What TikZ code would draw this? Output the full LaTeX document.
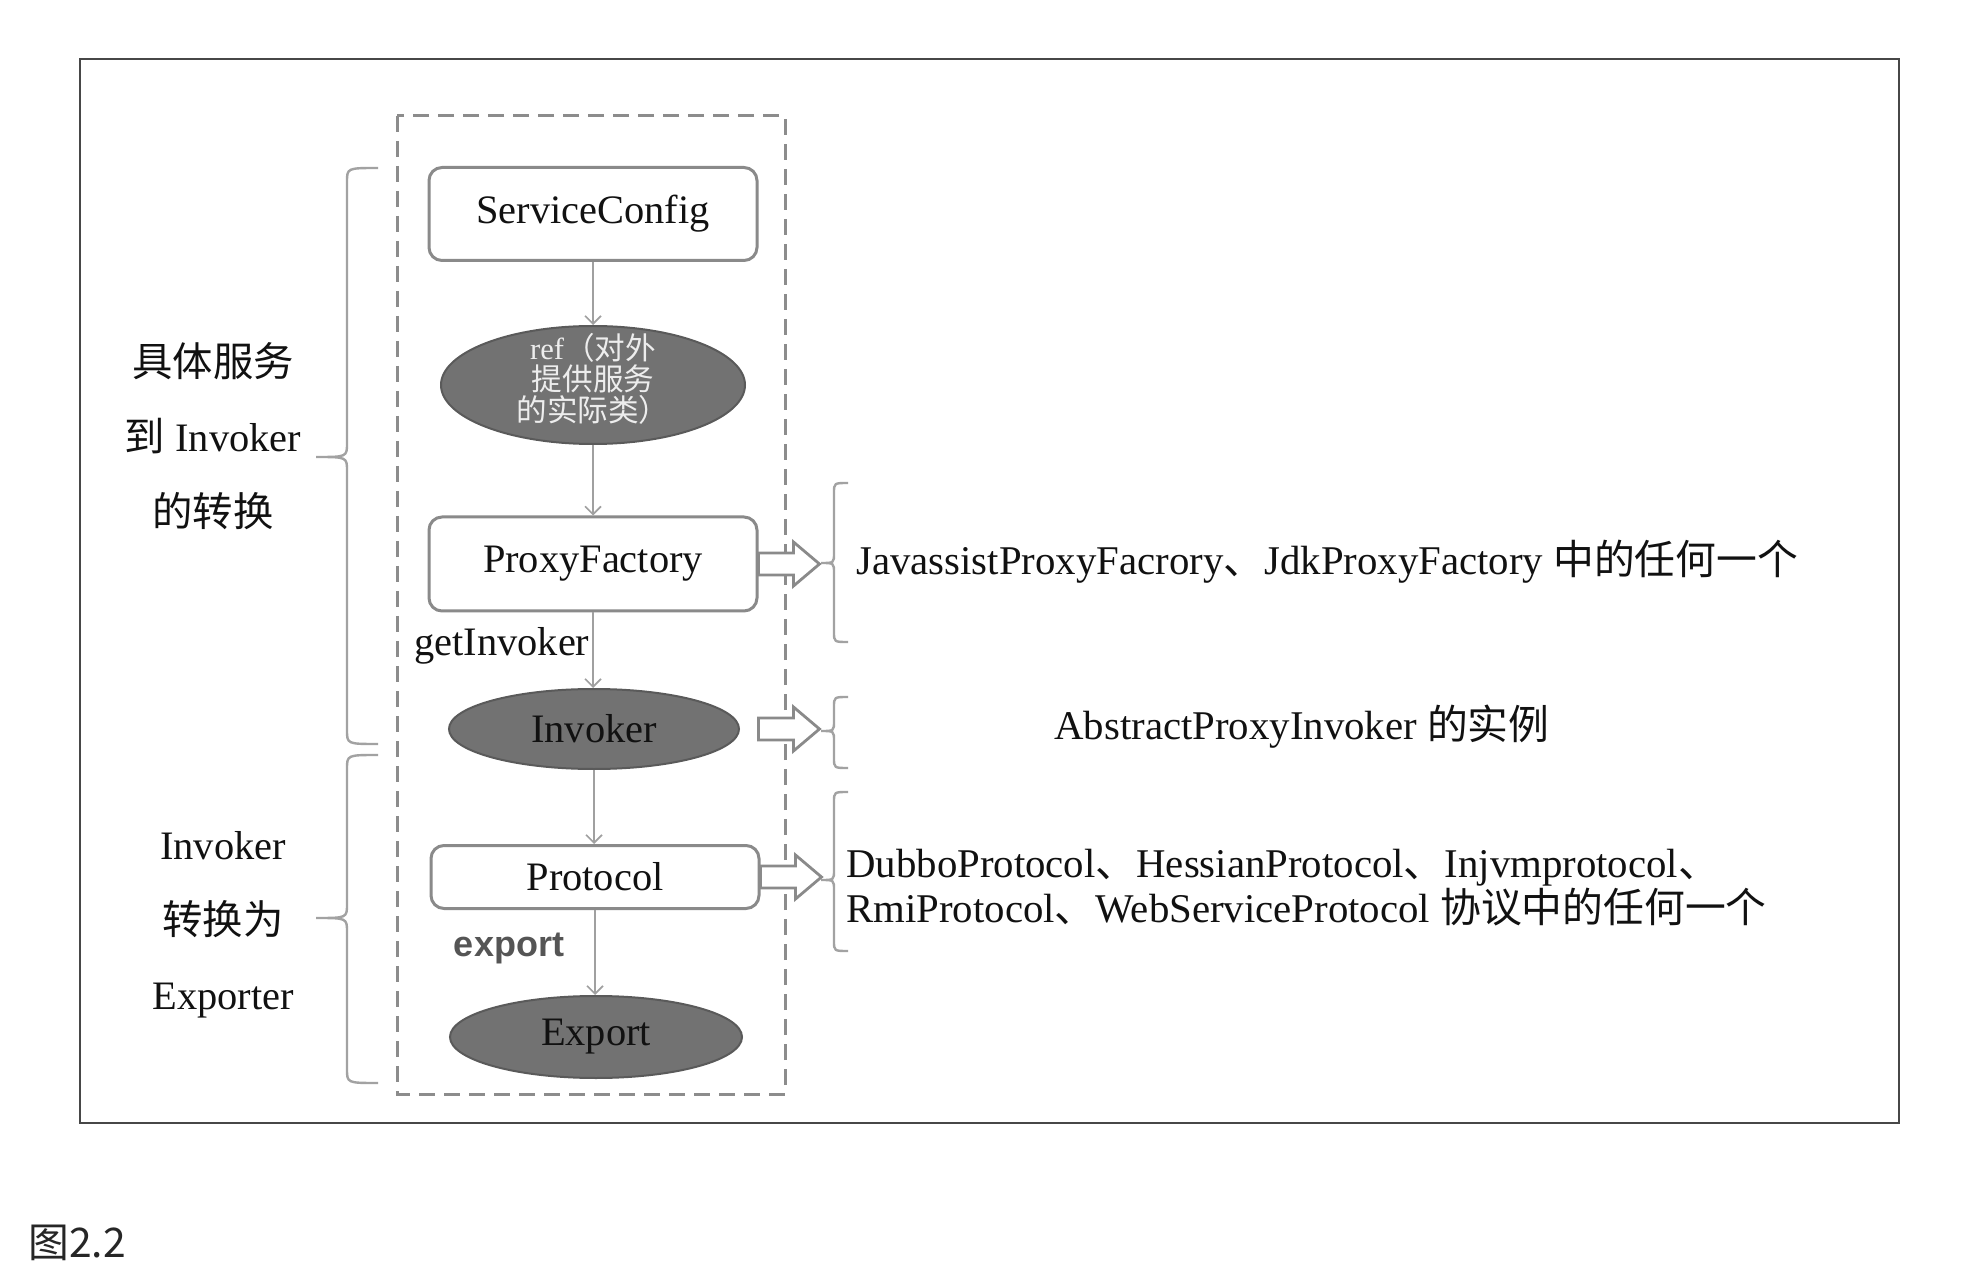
\documentclass[tikz,border=0pt]{standalone}
\usepackage{fontspec}
\setmainfont{Liberation Serif}
\newfontfamily\zhfont{Noto Sans CJK SC}
\newfontfamily\labsans{Liberation Sans}
\newcommand\zh[1]{{\zhfont #1}}
\usetikzlibrary{arrows.meta,shapes.geometric}
\definecolor{boxgray}{HTML}{8A8A8A}
\definecolor{ellfill}{HTML}{727272}
\definecolor{elldraw}{HTML}{5A5A5A}
\definecolor{conngray}{HTML}{A0A0A0}
\definecolor{dashgray}{HTML}{8C8C8C}
\definecolor{bracegray}{HTML}{A2A2A2}
\definecolor{framegray}{HTML}{474747}
\definecolor{exportgray}{HTML}{555555}
\definecolor{txt}{HTML}{111111}
\newcommand\mybrace[7]{%
  \draw[bracestyle] (#1,#4) .. controls (#2,#4) .. (#2,#4+#7)
    -- (#2,#5-#7) .. controls (#2,#5) .. (#3,#5)
    .. controls (#2,#5) .. (#2,#5+#7)
    -- (#2,#6-#7) .. controls (#2,#6) .. (#1,#6);}
\begin{document}
\begin{tikzpicture}[x=0.5pt,y=-0.5pt,
  every node/.style={text=txt, font=\fontsize{20.2}{24}\selectfont},
  procbox/.style={draw=boxgray, line width=1.5pt, rounded corners=6.5pt, fill=white,
    minimum width=164pt, inner sep=0pt},
  darkell/.style={ellipse, draw=elldraw, line width=1pt, fill=ellfill, inner sep=0pt},
  conn/.style={draw=conngray, line width=0.8pt, -{Straight Barb[length=4pt,width=8pt]}},
  dashbox/.style={draw=dashgray, line width=1.5pt, dash pattern=on 8pt off 4.5pt},
  bracestyle/.style={draw=bracegray, line width=1.2pt},
  harrow/.style={draw=boxgray, line width=1.4pt, fill=white, line join=miter},
  txtnode/.style={inner sep=0pt},
  hollowarrow/.pic={\draw[harrow] (0,-11) -- (35,-11) -- (35,-22) -- (61,0) -- (35,22) -- (35,11) -- (0,11) -- cycle;}
]
\useasboundingbox (0,0) rectangle (1972,1278);
\fill[white] (0,0) rectangle (1972,1278);
% outer frame
\draw[framegray, line width=1.3pt] (80,59) rectangle (1899,1123);
% dashed group
\draw[dashbox] (397,116) rectangle (785,1094);
% main chain
\node[procbox, minimum height=46.5pt] (sc) at (593,214) {ServiceConfig};
\node[darkell, minimum width=152pt, minimum height=59pt] (ref) at (593,385) {};
\node[txtnode, align=center, text=white!93!black, font=\fontsize{15.3}{13.5}\selectfont]
  (reftxt) at ([yshift=3pt]ref.center) {ref\zh{（对外}\\\zh{提供服务}\\\zh{的实际类）}};
\node[procbox, minimum height=47pt] (pf) at (593,564) {ProxyFactory};
\node[darkell, minimum width=145pt, minimum height=40pt] (inv) at (594,729) {Invoker};
\node[procbox, minimum height=31.5pt] (proto) at (595,877) {Protocol};
\node[darkell, minimum width=146pt, minimum height=41pt] (exp) at (596,1037) {Export};
% connectors
\draw[conn] (sc.south) -- (sc.south |- ref.north);
\draw[conn] (ref.south) -- (ref.south |- pf.north);
\draw[conn] (pf.south) -- (pf.south |- inv.north);
\draw[conn] (inv.south) -- (inv.south |- proto.north);
\draw[conn] (proto.south) -- (proto.south |- exp.north);
% edge labels
\node[txtnode, anchor=west] (gi) at (414,646) {getInvoker};
\node[txtnode, font=\labsans\bfseries\fontsize{18}{22}\selectfont, text=exportgray] (ex) at (509,948) {export};
% hollow arrows
\path (pf.east) pic {hollowarrow};
\path (pf.east |- inv) pic {hollowarrow};
\path (proto.east) pic {hollowarrow};
% left braces
\mybrace{378}{347}{316}{168}{457}{744}{14}
\mybrace{378}{347}{316}{755}{918}{1083}{14}
% right braces
\mybrace{848}{834}{821}{483}{563}{642}{10}
\mybrace{848}{834}{821}{697}{731}{768}{10}
\mybrace{848}{834}{821}{792}{880}{951}{10}
% left labels
\node[txtnode, align=center, font=\fontsize{20.2}{37.5}\selectfont] (l1) at (213,436)
  {\zh{具体服务}\\\zh{到} Invoker\\\zh{的转换}};
\node[txtnode, align=center, font=\fontsize{20.2}{37.5}\selectfont] (l2) at (223,925)
  {Invoker\\\zh{转换为}\\Exporter};
% right texts
\node[txtnode, anchor=west, font=\fontsize{20.4}{24}\selectfont] (t1) at (856,562)
  {JavassistProxyFacrory\zh{、}JdkProxyFactory \zh{中的任何一个}};
\node[txtnode, font=\fontsize{20.4}{24}\selectfont] (t2) at (1302,727) {AbstractProxyInvoker \zh{的实例}};
\node[txtnode, anchor=west, align=left, font=\fontsize{20.4}{20.5}\selectfont] (t3) at (846,888)
  {DubboProtocol\zh{、}HessianProtocol\zh{、}Injvmprotocol\zh{、}\\RmiProtocol\zh{、}WebServiceProtocol \zh{协议中的任何一个}};
% caption
\node[txtnode, anchor=west, font=\zhfont\fontsize{20.4}{24}\selectfont, text=black!85] (cap) at (28,1243) {图2.2};
\end{tikzpicture}
\end{document}
